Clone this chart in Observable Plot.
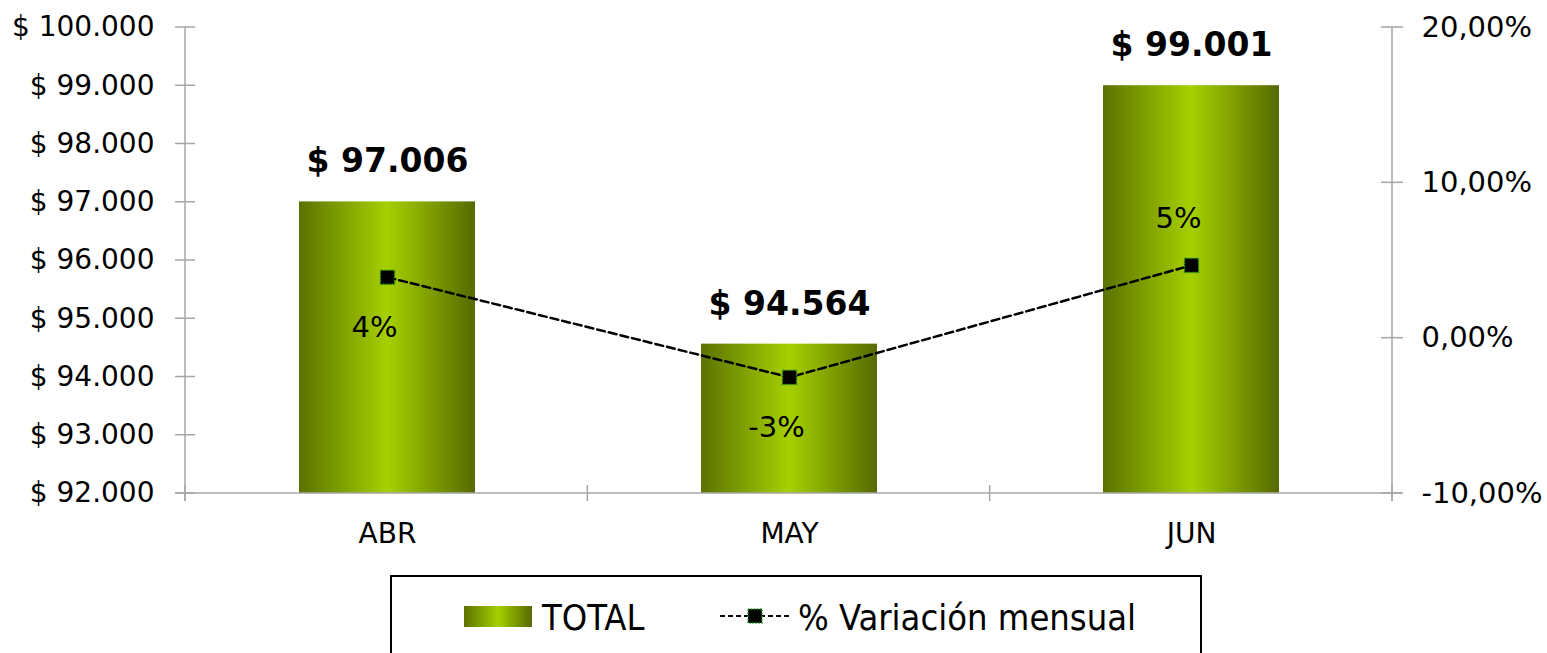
<!DOCTYPE html>
<html>
<head>
<meta charset="utf-8">
<script src="https://cdn.jsdelivr.net/npm/d3@7"></script>
<script src="https://cdn.jsdelivr.net/npm/@observablehq/plot@0.6"></script>
<style>
  html, body { margin: 0; padding: 0; background: #fff; overflow: hidden; }
  #wrap { position: relative; width: 1547px; height: 653px; }
  #chart { position: absolute; left: 0; top: 0; }
  .leg { position: absolute; font-family: "DejaVu Sans Condensed", "DejaVu Sans", sans-serif; font-stretch: condensed; font-size: 36px; line-height: 36px; color: #000; white-space: nowrap; }
</style>
</head>
<body>
<div id="wrap">
  <div id="chart"></div>
  <div id="legendBox" style="position:absolute; left:390px; top:575px; width:812px; height:110px; border:2px solid #000; box-sizing:border-box;"></div>
  <div style="position:absolute; left:464px; top:606px; width:68px; height:21px; background:linear-gradient(to right,#5b7200,#a6d000 50%,#566a00);"></div>
  <div class="leg" style="left:542px; top:600px;">TOTAL</div>
  <svg style="position:absolute; left:716px; top:604px;" width="80" height="24">
    <line x1="4" y1="12" x2="74" y2="12" stroke="#000" stroke-width="2" stroke-dasharray="5,3"></line>
    <rect x="32" y="5" width="14" height="14" fill="#000" stroke="#2a9a2a" stroke-width="1.5" stroke-dasharray="1.5,1.5"></rect>
  </svg>
  <div class="leg" style="left:798px; top:600px;">% Variación mensual</div>
</div>
<script>
// ---- data ----
const months = ["ABR", "MAY", "JUN"];
const totals = [97006, 94564, 99001];
const variation = [0.0392, -0.0252, 0.0469];
const leftTicks = [92000, 93000, 94000, 95000, 96000, 97000, 98000, 99000, 100000];
const rightTicks = [-0.10, 0.00, 0.10, 0.20];

const data = months.map((m, i) => ({month: m, total: totals[i], pct: variation[i]}));

// secondary axis mapping (percent -> primary y domain)
const Y0 = leftTicks[0], Y1 = leftTicks[leftTicks.length - 1];
const P0 = rightTicks[0], P1 = rightTicks[rightTicks.length - 1];
const toY = p => Y0 + (p - P0) / (P1 - P0) * (Y1 - Y0);
const fromY = y => P0 + (y - Y0) / (Y1 - Y0) * (P1 - P0);

const esLocale = d3.formatLocale({decimal: ",", thousands: ".", grouping: [3], currency: ["$ ", ""], minus: "-"});
const money = v => "$ " + esLocale.format(",")(v);
const pctAxis = p => esLocale.format(".2f")(Math.round(p * 10000) / 100) + "%";
const pctLabel = p => Math.round(p * 100) + "%";

const axisGrey = "#a6a6a6";

const gridMark = (index, scales, values, dims) => {
  const g = d3.create("svg:g").attr("stroke", axisGrey).attr("stroke-width", 1.5).attr("fill", "none");
  const xl = dims.marginLeft, xr = dims.width - dims.marginRight;
  const yt = dims.marginTop, yb = dims.height - dims.marginBottom;
  g.append("line").attr("x1", xl).attr("x2", xl).attr("y1", yt).attr("y2", yb + 8);
  g.append("line").attr("x1", xr).attr("x2", xr).attr("y1", yt).attr("y2", yb + 8);
  g.append("line").attr("x1", xl - 10).attr("x2", xr + 10).attr("y1", yb).attr("y2", yb);
  for (const v of leftTicks) {
    const y = scales.y(v);
    g.append("line").attr("x1", xl - 10).attr("x2", xl + 10).attr("y1", y).attr("y2", y);
  }
  for (const p of rightTicks) {
    const y = scales.y(toY(p));
    g.append("line").attr("x1", xr - 11).attr("x2", xr + 11).attr("y1", y).attr("y2", y);
  }
  const step = (xr - xl) / months.length;
  for (let i = 0; i <= months.length; i++) {
    const x = xl + i * step;
    g.append("line").attr("x1", x).attr("x2", x).attr("y1", yb - 8).attr("y2", yb + 8);
  }
  return g.node();
};

const defsMark = () => {
  const defs = d3.create("svg:defs");
  const lg = defs.append("linearGradient").attr("id", "barGrad").attr("x1", "0").attr("x2", "1").attr("y1", "0").attr("y2", "0");
  lg.append("stop").attr("offset", "0%").attr("stop-color", "#5b7200");
  lg.append("stop").attr("offset", "50%").attr("stop-color", "#a6d000");
  lg.append("stop").attr("offset", "100%").attr("stop-color", "#566a00");
  return defs.node();
};

const chart = Plot.plot({
  width: 1547,
  height: 560,
  marginLeft: 185,
  marginRight: 155,
  marginTop: 27,
  marginBottom: 67,
  style: {fontFamily: "DejaVu Sans, Verdana, sans-serif", fontSize: "28px", background: "#fff", color: "#000", overflow: "visible"},
  x: {domain: months, paddingInner: 0.5625, paddingOuter: 0.28125, axis: null, label: null},
  y: {domain: [Y0, Y1], axis: null, label: null},
  marks: [
    defsMark,
    Plot.barY(data, {x: "month", y1: () => Y0, y2: "total", fill: "url(#barGrad)"}),
    gridMark,
    Plot.axisY({anchor: "left", ticks: leftTicks, tickSize: 0, tickPadding: 31, tickFormat: money, fontSize: 28, label: null}),
    Plot.axisY({anchor: "right", ticks: rightTicks.map(toY), tickSize: 0, tickPadding: 29, tickFormat: y => pctAxis(fromY(y)), fontSize: 29, label: null}),
    Plot.axisX({anchor: "bottom", tickSize: 0, tickPadding: 30, fontSize: 28, label: null}),
    Plot.line(data, {x: "month", y: d => toY(d.pct), stroke: "#000", strokeWidth: 2.5, strokeDasharray: "8,4"}),
    Plot.dot(data, {x: "month", y: d => toY(d.pct), symbol: "square", r: 8, fill: "#000", stroke: "#2a9a2a", strokeWidth: 1.5, strokeDasharray: "1.5,1.5"}),
    Plot.text(data, {x: "month", y: "total", text: d => money(d.total), dy: -40, fontWeight: "bold", fontSize: 33, lineAnchor: "middle", fill: "#000"}),
    Plot.text(data, {filter: d => d.month !== "JUN", x: "month", y: d => toY(d.pct), text: d => pctLabel(d.pct), dx: -13, dy: 50, fontSize: 29, lineAnchor: "middle", fill: "#000"}),
    Plot.text(data, {filter: d => d.month === "JUN", x: "month", y: d => toY(d.pct), text: d => pctLabel(d.pct), dx: -13, dy: -47, fontSize: 29, lineAnchor: "middle", fill: "#000"})
  ]
});
document.getElementById("chart").appendChild(chart);
</script>
</body>
</html>
